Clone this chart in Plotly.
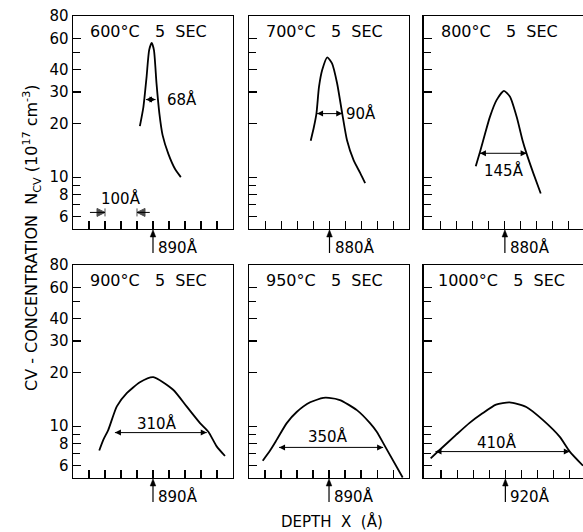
import math
import plotly.graph_objects as go

# ---------------- data ----------------
PANEL_TITLES = ["600°C", "700°C", "800°C", "900°C", "950°C", "1000°C"]
ANNEAL_TIME = "5 SEC"
PEAK_LABELS = [890, 880, 880, 890, 890, 920]          # marked depth (Å)
FWHM_LABELS = ["68Å", "90Å", "145Å", "310Å", "350Å", "410Å"]

depth_600 = [849, 860, 870, 878, 886, 893, 901, 910, 920, 938, 959, 977]
conc_600 = [19.3, 24.7, 36.5, 51.5, 56.6, 51.5, 33.5, 22.7, 17.2, 13.5, 11.1, 10.0]

depth_700 = [821, 831, 839, 847, 857, 873, 888, 904, 920, 935, 956, 977, 992]
conc_700 = [16.0, 19.1, 22.7, 32.0, 39.8, 46.9, 43.4, 33.5, 22.7, 16.1, 12.4, 10.5, 9.25]

depth_800 = [789, 802, 818, 833, 854, 877, 896, 917, 935, 948, 969, 992]
conc_800 = [11.5, 13.8, 17.5, 21.7, 27.0, 30.4, 28.2, 21.7, 16.1, 13.5, 10.5, 8.1]

depth_900 = [722, 735, 750, 777, 808, 849, 891, 953, 995, 1037, 1063, 1089, 1115]
conc_900 = [7.3, 8.4, 9.5, 12.9, 15.3, 17.6, 18.8, 16.0, 12.9, 10.4, 9.3, 7.7, 6.8]

depth_950 = [683, 706, 727, 758, 789, 831, 872, 890, 924, 977, 1018, 1039, 1065, 1120]
conc_950 = [6.4, 7.3, 8.4, 10.4, 12.0, 13.6, 14.4, 14.4, 14.0, 12.3, 10.4, 9.3, 7.7, 5.15]

depth_1000 = [688, 714, 766, 808, 849, 891, 933, 985, 1037, 1089, 1120, 1161]
conc_1000 = [6.6, 7.3, 8.9, 10.4, 11.8, 13.2, 13.6, 12.8, 10.8, 8.7, 7.2, 6.0]

# FWHM arrows: left depth, right depth, concentration level
fwhm_left = [868, 841, 802, 771, 734, 703]
fwhm_right = [898, 920, 948, 1058, 1059, 1120]
fwhm_level = [27.2, 22.7, 13.6, 9.2, 7.6, 7.2]
# FWHM label positions (depth, concentration)
fwhm_text_x = [926, 926, 877, 902, 887, 895]
fwhm_text_y = [27.2, 22.7, 10.9, 10.4, 8.7, 8.05]

# x ranges (Å) for each panel
x_ranges = [[640, 1140], [627, 1130], [627, 1124], [640, 1140], [640, 1140], [667, 1161]]

# scale bar in first panel (Å)
scale_bar = [740, 840]
scale_bar_tails = [693, 880]
scale_bar_level = 6.34
scale_bar_text = "100Å"
scale_bar_text_level = 7.6

# y axis
y_range = [5.12, 80]
y_tickvals = [6, 8, 10, 20, 30, 40, 60, 80]
y_ticktext = ["6", "8", "10", "20", "30", "40", "60", "80"]
y_minor_tickvals = [7, 9, 50]

depths = [depth_600, depth_700, depth_800, depth_900, depth_950, depth_1000]
concs = [conc_600, conc_700, conc_800, conc_900, conc_950, conc_1000]

# ---------------- layout ----------------
W, H = 583, 532
ML, MR, MT, MB = 73, 0, 16, 54
x_domains = [[0.0, 0.3137], [0.345, 0.659], [0.688, 1.0]]
y_domains = [[0.539, 1.0], [0.0, 0.461]]
PANEL_W = 160.0
PANEL_H = 213.0

FONT = "DejaVu Sans"
TXT = dict(family=FONT, size=15, color="black")
NB = "\u00a0"
fig = go.Figure()
annotations = []
shapes = []

for i in range(6):
    row, col = divmod(i, 3)
    n = i + 1
    xa = "x" if n == 1 else f"x{n}"
    ya = "y" if n == 1 else f"y{n}"
    fig.add_trace(go.Scatter(
        x=depths[i], y=concs[i], mode="lines",
        line=dict(color="black", width=1.8, shape="spline", smoothing=0.6),
        xaxis=xa, yaxis=ya, showlegend=False, hoverinfo="skip"))

    # FWHM double-headed arrow
    fig.add_trace(go.Scatter(
        x=[fwhm_left[i], fwhm_right[i]], y=[fwhm_level[i], fwhm_level[i]],
        mode="lines+markers", line=dict(color="black", width=1),
        marker=dict(symbol=["arrow-left", "arrow-right"], size=6, color="black"),
        xaxis=xa, yaxis=ya, showlegend=False, hoverinfo="skip"))

    center = PEAK_LABELS[i]
    xkey = "xaxis" if n == 1 else f"xaxis{n}"
    ykey = "yaxis" if n == 1 else f"yaxis{n}"
    fig.layout[xkey] = dict(
        domain=x_domains[col], anchor=ya, range=x_ranges[i],
        showgrid=False, zeroline=False, showline=True, linecolor="black",
        linewidth=1.4, mirror=True, ticks="inside", ticklen=8, tickwidth=1.1,
        tickcolor="black", tickmode="linear", tick0=center, dtick=50,
        showticklabels=False)
    fig.layout[ykey] = dict(
        domain=y_domains[row], anchor=xa, type="log",
        range=[math.log10(y_range[0]), math.log10(y_range[1])],
        showgrid=False, zeroline=False, showline=True, linecolor="black",
        linewidth=1.4, mirror=(col != 2), ticks="inside", ticklen=8,
        tickwidth=1.1, tickcolor="black", tickmode="array",
        tickvals=y_tickvals, ticktext=y_ticktext,
        minor=dict(tickmode="array", tickvals=y_minor_tickvals, ticks="inside",
                   ticklen=7, tickwidth=1.1, tickcolor="black", showgrid=False),
        showticklabels=(col == 0), tickfont=TXT)

    # panel title
    t_parts = ANNEAL_TIME.split(" ")
    title = PANEL_TITLES[i] + NB * 3 + t_parts[0] + NB * 2 + t_parts[1]
    annotations.append(dict(
        text=title,
        xref=f"{xa} domain", yref=f"{ya} domain", x=0.095 if i != 5 else 0.075,
        y=0.925, xanchor="left", yanchor="middle", showarrow=False,
        font=dict(family=FONT, size=16, color="black")))

    # peak position arrow (shaft + head below the axis) + label
    fx = (center - x_ranges[i][0]) / (x_ranges[i][1] - x_ranges[i][0])
    shaft = 24 / PANEL_H
    hx, hy = 2.8 / PANEL_W, 8 / PANEL_H
    shapes.append(dict(
        type="line", xref=f"{xa} domain", yref=f"{ya} domain",
        x0=fx, x1=fx, y0=-hy * 0.8, y1=-shaft,
        line=dict(color="black", width=1.2)))
    shapes.append(dict(
        type="path", xref=f"{xa} domain", yref=f"{ya} domain",
        path=f"M {fx},{-0.004} L {fx - hx},{-hy} L {fx + hx},{-hy} Z",
        fillcolor="black", line=dict(color="black", width=0.5)))
    annotations.append(dict(
        text=f"{center}Å", x=center, y=0, xref=xa, yref=f"{ya} domain",
        xanchor="left", yanchor="top", xshift=3, yshift=-7, showarrow=False,
        font=TXT))

    # FWHM label
    annotations.append(dict(
        text=FWHM_LABELS[i], x=fwhm_text_x[i], y=math.log10(fwhm_text_y[i]),
        xref=xa, yref=ya, xanchor="left" if i < 2 else "center",
        yanchor="middle", showarrow=False, font=TXT))

# scale bar in first panel: ->|  |<-
fig.add_trace(go.Scatter(
    x=[scale_bar_tails[0], scale_bar[0]], y=[scale_bar_level] * 2,
    mode="lines+markers", line=dict(color="black", width=1),
    marker=dict(symbol=["circle", "arrow-bar-right"], size=[0, 8], color="black",
                line=dict(color="black", width=1)),
    xaxis="x", yaxis="y", showlegend=False, hoverinfo="skip"))
fig.add_trace(go.Scatter(
    x=[scale_bar[1], scale_bar_tails[1]], y=[scale_bar_level] * 2,
    mode="lines+markers", line=dict(color="black", width=1),
    marker=dict(symbol=["arrow-bar-left", "circle"], size=[8, 0], color="black",
                line=dict(color="black", width=1)),
    xaxis="x", yaxis="y", showlegend=False, hoverinfo="skip"))
annotations.append(dict(
    text=scale_bar_text, x=(scale_bar[0] + scale_bar[1]) / 2,
    y=math.log10(scale_bar_text_level), xref="x", yref="y", showarrow=False,
    font=TXT))

# axis titles
annotations.append(dict(
    text="CV - CONCENTRATION" + NB * 2 + "N<sub>CV</sub>" + NB + "(10<sup>17</sup>" + NB + "cm<sup>-3</sup>)",
    xref="paper", yref="paper", x=-0.08, y=0.52, textangle=-90,
    showarrow=False, xanchor="center", yanchor="middle",
    font=dict(family=FONT, size=16, color="black")))
annotations.append(dict(
    text="DEPTH" + NB * 2 + "X" + NB * 2 + "(Å)", xref="paper", yref="paper",
    x=0.508, y=-0.095, showarrow=False, xanchor="center", yanchor="middle",
    font=dict(family=FONT, size=15, color="black")))

fig.update_layout(
    width=W, height=H, margin=dict(l=ML, r=MR, t=MT, b=MB),
    paper_bgcolor="white", plot_bgcolor="white",
    annotations=annotations, shapes=shapes, showlegend=False,
    font=dict(family=FONT, color="black"))

fig.write_html(
    "out.html",
    config={"displayModeBar": False, "staticPlot": True},
    post_script="document.body.style.margin='0px';document.body.style.padding='0px';document.body.style.overflow='hidden';")
